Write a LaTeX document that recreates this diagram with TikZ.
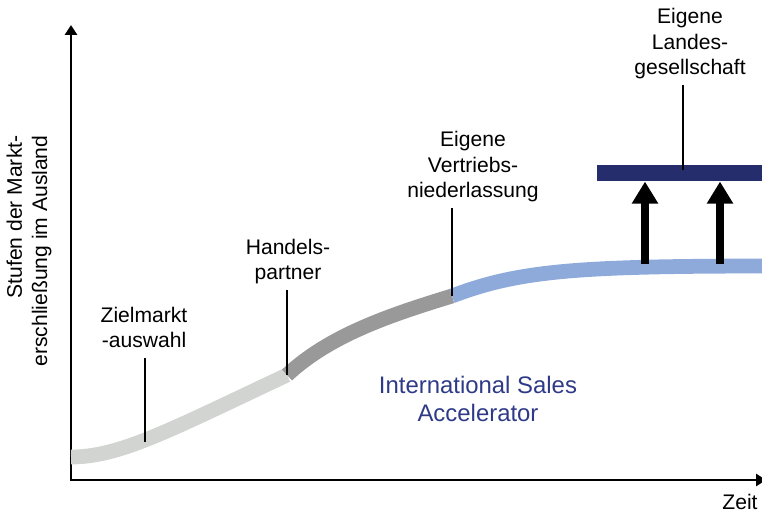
\documentclass[tikz,border=0pt]{standalone}
\usepackage{fontspec}
\setmainfont{Liberation Sans}
\usepackage{xcolor}
\usetikzlibrary{arrows.meta}
\definecolor{stageone}{RGB}{210,212,210}
\definecolor{stagetwo}{RGB}{153,153,153}
\definecolor{stagethree}{RGB}{142,170,219}
\definecolor{barblue}{RGB}{37,45,108}
\definecolor{isablue}{RGB}{46,58,135}

\begin{document}
\begin{tikzpicture}[x=0.025cm, y=-0.025cm,
  every node/.style={font=\fontsize{15}{18}\selectfont, align=center},
  stagelabel/.style={anchor=south, text depth=0pt, inner xsep=2pt, inner ysep=7.4pt},
  leader/.style={line width=0.9pt},
  stage/.style={line width=10.5pt},
  axis/.style={line width=2.1pt, {Triangle[width=8.5pt,length=7pt]}-{Triangle[width=8.5pt,length=7pt]}},
  lift/.style={line width=5.7pt, -{Triangle[width=17.7pt,length=15.6pt]}}]

  \useasboundingbox (0,0) rectangle (762,514);

  % ========== Axes ==========
  \coordinate (ytop) at (71,25);
  \coordinate (xend) at (766,480);
  \draw[axis] (ytop) |- (xend);
  \node[rotate=90, align=right] (ylabel) at (29,251) {Stufen der Markt-\\erschließung im Ausland};
  \node (zeit) at (740,502) {Zeit};

  % ========== Curve with the three stages ==========
  \coordinate (start) at (71,457);
  \coordinate (zm) at (145,442);
  \coordinate (hp) at (287,375);
  \coordinate (vn) at (452,296);
  \coordinate (stop) at (775,266);
  \draw[stage, stageone] (start) .. controls (120,457) and (170,430) .. (hp);
  \draw[stage, stagetwo] (hp) .. controls (330,335) and (390,315) .. (vn);
  \draw[stage, stagethree] (vn) .. controls (520,270) and (580,266) .. (stop);

  % --- Stage labels ---
  \node[stagelabel] (zielmarkt) at (144,358) {Zielmarkt\\-auswahl};
  \node[stagelabel] (handels) at (288,290) {Handels-\\partner};
  \node[stagelabel] (vertrieb) at (473,208) {Eigene\\Vertriebs-\\niederlassung};
  \draw[leader] (zm) -- (zm |- zielmarkt.south);
  \draw[leader] (hp) -- (hp |- handels.south);
  \draw[leader] (vn) -- (vn |- vertrieb.south);

  % ========== Own subsidiary ==========
  \coordinate (a1) at (645,264);
  \coordinate (a2) at (720,264);
  \node[fill=barblue, minimum width=4.3cm, minimum height=0.4cm, inner sep=0pt, anchor=north west] (bar) at (597,165) {};
  \draw[lift] (a1) -- (a1 |- bar.south);
  \draw[lift] (a2) -- (a2 |- bar.south);
  \node[stagelabel] (landes) at (690,85) {Eigene\\Landes-\\gesellschaft};
  \coordinate (lg) at (683,170);
  \draw[leader] (lg) -- (lg |- landes.south);

  % ========== Programme name ==========
  \node[font=\fontsize{17}{20}\selectfont, text=isablue] (isa) at (478,399) {International Sales\\Accelerator};

\end{tikzpicture}
\end{document}
